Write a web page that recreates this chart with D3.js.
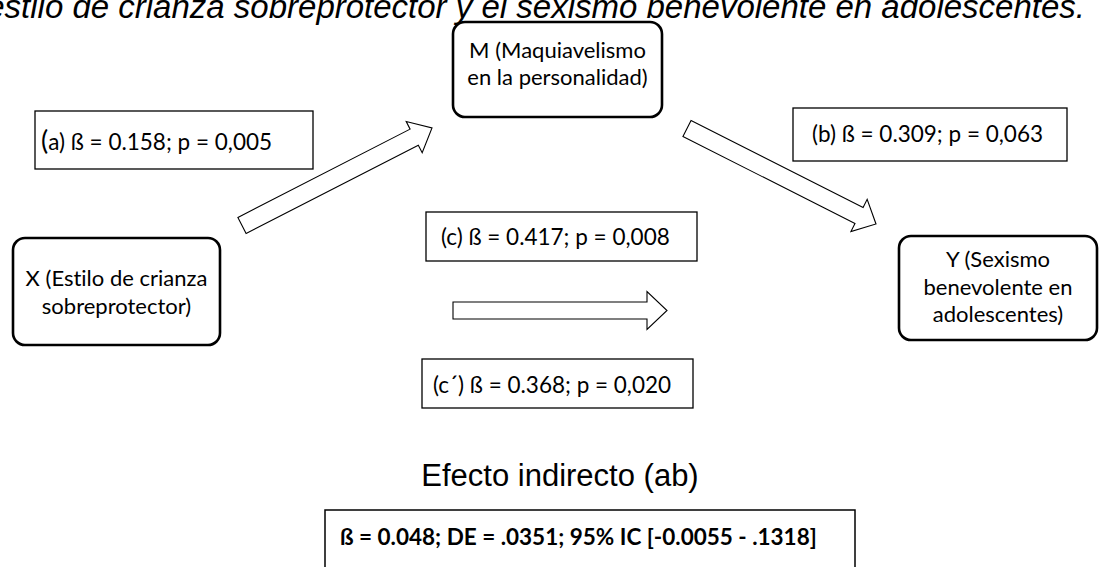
<!DOCTYPE html>
<html>
<head>
<meta charset="utf-8">
<script src="https://cdn.jsdelivr.net/npm/d3@7/dist/d3.min.js"></script>
<style>
  html, body { margin: 0; padding: 0; background: #fff; }
  svg { display: block; }
  .lbl { font-family: Lato, "Open Sans", sans-serif; fill: #000; font-variant-ligatures: none; }
</style>
</head>
<body>
<div id="chart"></div>
<script>
const titleText = 'estilo de crianza sobreprotector y el sexismo benevolente en adolescentes.';

// nodes of the mediation model
const nodeIds = ['X', 'M', 'Y'];
const nodeLines = [
  ['X (Estilo de crianza', 'sobreprotector)'],
  ['M (Maquiavelismo', 'en la personalidad)'],
  ['Y (Sexismo', 'benevolente en', 'adolescentes)']
];

// paths: a, b, c, c'
const pathKeys = ['a', 'b', 'c', 'c´'];
const pathBeta = ['0.158', '0.309', '0.417', '0.368'];
const pathP = ['0,005', '0,063', '0,008', '0,020'];

// indirect effect
const indirectTitle = 'Efecto indirecto (ab)';
const indirectNames = ['ß', 'DE', '95% IC'];
const indirectValues = ['0.048', '.0351', '[-0.0055 - .1318]'];

const width = 1100, height = 567;

// layout (pixels)
const nodeBox = {
  X: {x0: 13, x1: 220, y0: 238, y1: 345, ty: 286, lh: 28},
  M: {x0: 453, x1: 662, y0: 22, y1: 117, ty: 58, lh: 27},
  Y: {x0: 899, x1: 1097, y0: 236, y1: 340, ty: 267, lh: 27.5}
};
const labelBox = [
  {x0: 35, x1: 313, y0: 111, y1: 169, tx: 41, ty: 150},
  {x0: 793, x1: 1067, y0: 108, y1: 161, tx: 812, ty: 142},
  {x0: 426, x1: 697, y0: 212, y1: 261, tx: 441, ty: 245},
  {x0: 422, x1: 693, y0: 359, y1: 408, tx: 433, ty: 393}
];
const arrows = [
  {from: [242, 225.5], to: [432, 128], shaft: 18, head: 35, len: 20},
  {from: [687, 128.5], to: [876, 224], shaft: 18, head: 36, len: 19},
  {from: [453, 310.5], to: [667, 310.5], shaft: 17, head: 38, len: 20}
];

const svg = d3.select('#chart')
  .append('svg')
  .attr('width', width)
  .attr('height', height);

// title (only its lower part shows in the frame)
svg.append('text')
  .attr('x', 1085)
  .attr('y', 18)
  .attr('text-anchor', 'end')
  .style('font-family', '"Liberation Sans", Arial, sans-serif')
  .style('font-style', 'italic')
  .style('font-size', '33px')
  .text(titleText);

// block arrows
const line = d3.line();
const arrowShape = (a) => {
  const dx = a.to[0] - a.from[0], dy = a.to[1] - a.from[1];
  const L = Math.hypot(dx, dy);
  const ux = dx / L, uy = dy / L, px = -uy, py = ux;
  const pt = (s, w) => [a.from[0] + ux * s + px * w, a.from[1] + uy * s + py * w];
  const b = L - a.len;
  return [
    pt(0, -a.shaft / 2), pt(b, -a.shaft / 2), pt(b, -a.head / 2), pt(L, 0),
    pt(b, a.head / 2), pt(b, a.shaft / 2), pt(0, a.shaft / 2)
  ];
};

svg.selectAll('.arrow')
  .data(arrows)
  .enter().append('path')
  .attr('class', 'arrow')
  .attr('d', d => line(arrowShape(d)) + 'Z')
  .attr('fill', '#fff')
  .attr('stroke', '#000')
  .attr('stroke-width', 1.1)
  .attr('stroke-linejoin', 'miter');

// node boxes
const nodes = svg.selectAll('.node')
  .data(nodeIds)
  .enter().append('g')
  .attr('class', 'node');

nodes.append('rect')
  .attr('x', d => nodeBox[d].x0)
  .attr('y', d => nodeBox[d].y0)
  .attr('width', d => nodeBox[d].x1 - nodeBox[d].x0)
  .attr('height', d => nodeBox[d].y1 - nodeBox[d].y0)
  .attr('rx', 12)
  .attr('fill', '#fff')
  .attr('stroke', '#000')
  .attr('stroke-width', 2.6);

nodes.each(function (d, i) {
  const b = nodeBox[d];
  const cx = (b.x0 + b.x1) / 2;
  d3.select(this).selectAll('text')
    .data(nodeLines[i])
    .enter().append('text')
    .attr('class', 'lbl')
    .attr('x', cx)
    .attr('y', (t, k) => b.ty + k * b.lh)
    .attr('text-anchor', 'middle')
    .style('font-size', '22px')
    .text(t => t);
});

// coefficient boxes
const labels = svg.selectAll('.coef')
  .data(pathKeys)
  .enter().append('g')
  .attr('class', 'coef');

labels.append('rect')
  .attr('x', (d, i) => labelBox[i].x0)
  .attr('y', (d, i) => labelBox[i].y0)
  .attr('width', (d, i) => labelBox[i].x1 - labelBox[i].x0)
  .attr('height', (d, i) => labelBox[i].y1 - labelBox[i].y0)
  .attr('fill', '#fff')
  .attr('stroke', '#000')
  .attr('stroke-width', 1.3);

const coefText = labels.append('text')
  .attr('class', 'lbl')
  .attr('x', (d, i) => labelBox[i].tx)
  .attr('y', (d, i) => labelBox[i].ty)
  .style('font-size', '22.5px');

coefText.append('tspan')
  .style('font-size', (d, i) => i === 0 ? '27px' : null)
  .text('(');
coefText.append('tspan')
  .text((d, i) => `${d}) ß = ${pathBeta[i]}; p = ${pathP[i]}`);

// indirect effect
svg.append('text')
  .attr('x', 560)
  .attr('y', 486)
  .attr('text-anchor', 'middle')
  .style('font-family', '"Liberation Sans", Arial, sans-serif')
  .style('font-size', '31px')
  .text(indirectTitle);

svg.append('rect')
  .attr('x', 325)
  .attr('y', 510)
  .attr('width', 530)
  .attr('height', 100)
  .attr('fill', '#fff')
  .attr('stroke', '#000')
  .attr('stroke-width', 1.5);

svg.append('text')
  .attr('class', 'lbl')
  .attr('x', 340)
  .attr('y', 545)
  .style('font-size', '22.5px')
  .style('font-weight', 'bold')
  .text(indirectNames.map((n, i) => i < 2
    ? `${n} = ${indirectValues[i]}`
    : `${n} ${indirectValues[i]}`).join('; '));
</script>
</body>
</html>
